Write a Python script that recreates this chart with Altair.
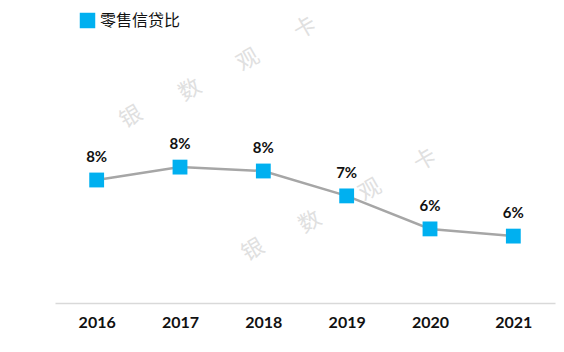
import altair as alt
import pandas as pd

years = ["2016", "2017", "2018", "2019", "2020", "2021"]
ratio = [7.6, 8.03, 7.9, 7.07, 5.97, 5.73]
labels = ["8%", "8%", "8%", "7%", "6%", "6%"]
series = "零售信贷比"

df = pd.DataFrame({"year": years, "ratio": ratio, "label": labels, "series": [series] * len(years)})

wm_chars = ["银", "数", "观", "卡", "银", "数", "观", "卡"]
wm_x = [76, 135, 193, 250, 198, 255, 315, 370]
wm_y = [24, -3, -33, -65, 157, 129, 97, 67]
wm = pd.DataFrame({"c": wm_chars, "px": wm_x, "py": wm_y})

x = alt.X("year:N", sort=years,
          scale=alt.Scale(type="point", padding=0.5),
          axis=alt.Axis(title=None, labelAngle=0, ticks=False, domainColor="#D9D9D9",
                        domainWidth=1.5, labelFontSize=16, labelFontWeight="bold",
                        labelFont="Lato", labelColor="#111111", labelPadding=11, grid=False))
y = alt.Y("ratio:Q", scale=alt.Scale(domain=[3.5, 10.5], nice=False, zero=False), axis=None)

base = alt.Chart(df).encode(x=x, y=y)

watermark = alt.Chart(wm).mark_text(
    fontSize=22, color="#E0E0E0", angle=330, font="Noto Sans CJK SC"
).encode(x=alt.X("px:Q", scale=None), y=alt.Y("py:Q", scale=None), text="c:N")

line = base.mark_line(color="#A6A6A6", strokeWidth=2.5)
pts = base.mark_point(shape="square", filled=True, size=220, opacity=1).encode(
    color=alt.Color("series:N", scale=alt.Scale(range=["#00B0F0"]),
                    legend=alt.Legend(title=None, orient="none", legendX=24, legendY=-81,
                                      symbolType="square", symbolSize=240,
                                      labelFontSize=16, labelFont="Noto Sans CJK SC",
                                      labelColor="#111111", symbolOpacity=1))
)
txt = base.mark_text(fontSize=15, fontWeight="bold", font="Lato", dy=-23, color="#111111").encode(text="label:N")

chart = alt.layer(watermark, line, pts, txt).properties(
    width=500, height=210,
    background="white",
    autosize=alt.AutoSizeParams(type="none"),
    padding={"left": 55, "top": 93, "right": 9, "bottom": 49},
).configure_view(strokeWidth=0, stroke="transparent")

chart.save("out.html", embed_options={"renderer": "svg", "actions": False})
